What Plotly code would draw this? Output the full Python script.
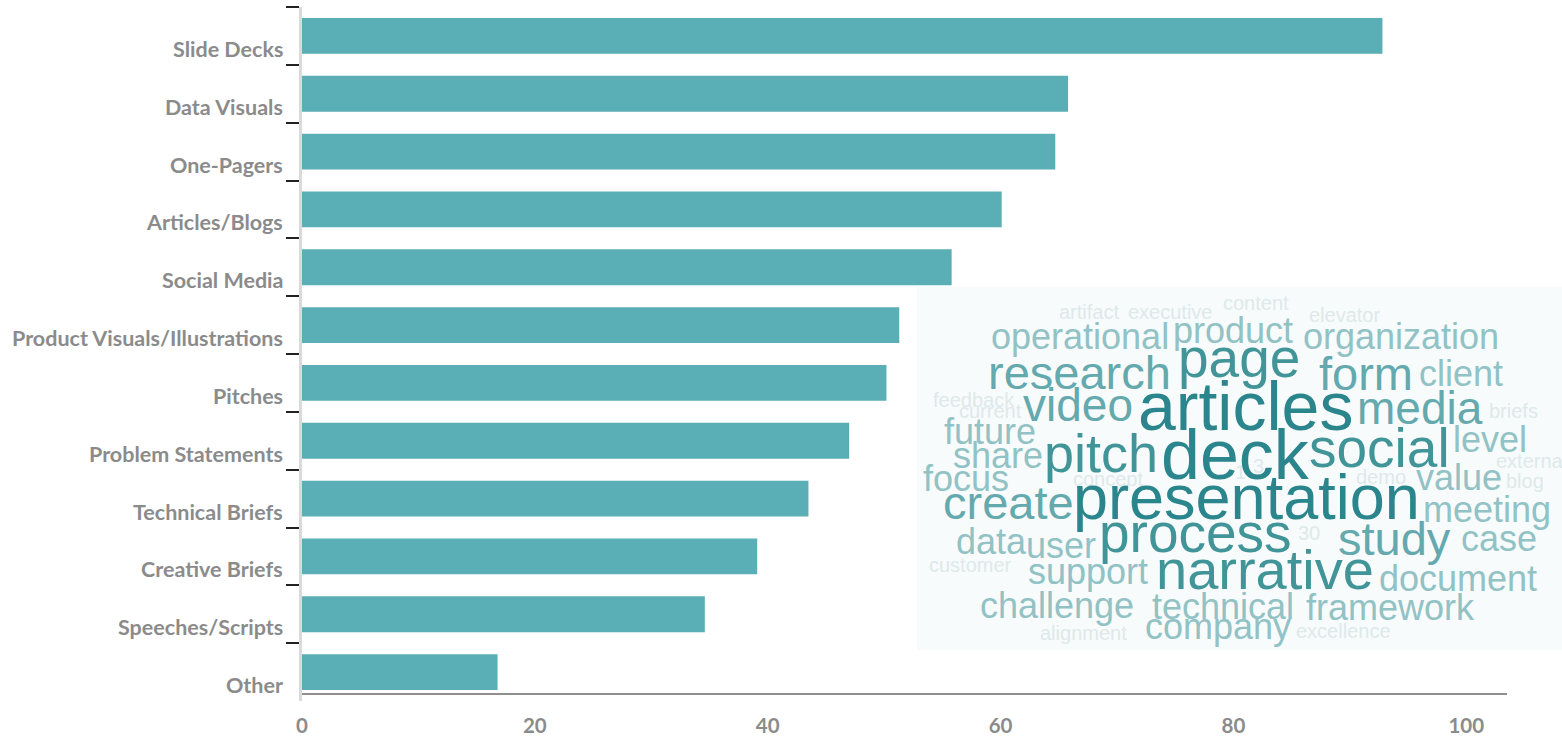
import plotly.graph_objects as go

# ---------------- data ----------------
categories = ["Slide Decks", "Data Visuals", "One-Pagers", "Articles/Blogs", "Social Media",
              "Product Visuals/Illustrations", "Pitches", "Problem Statements",
              "Technical Briefs", "Creative Briefs", "Speeches/Scripts", "Other"]
values = [92.8, 65.8, 64.7, 60.1, 55.8, 51.3, 50.2, 47.0, 43.5, 39.1, 34.6, 16.8]
x_ticks = [0, 20, 40, 60, 80, 100]

words = ["deck", "articles", "presentation", "narrative", "process", "page", "social", "pitch",
         "research", "form", "video", "media", "create", "study",
         "operational", "product", "organization", "client", "future", "level", "share", "focus",
         "value", "meeting", "data", "user", "case", "support", "document", "challenge",
         "technical", "framework", "company",
         "artifact", "executive", "content", "elevator", "feedback", "current", "briefs",
         "external", "concept", "demo", "blog", "30", "customer", "alignment", "excellence",
         "1", "3"]
word_weight = [70, 68, 63, 56, 55, 55, 55, 54,
               47, 47, 46, 46, 47, 47,
               36, 36, 36, 36, 36, 36, 36, 36,
               36, 36, 36, 36, 36, 36, 36, 36,
               36, 36, 36,
               20, 20, 20, 20, 20, 20, 20,
               20, 20, 20, 20, 20, 20, 20, 20,
               20, 20]

# ---------------- layout (word cloud placement, pixels: left x, baseline y) ----------------
word_pos = {
    "deck": (1160, 479), "articles": (1137, 430), "presentation": (1072, 519),
    "narrative": (1155, 589), "process": (1098, 552), "page": (1177, 377),
    "social": (1308, 467), "pitch": (1043, 472), "research": (987, 389),
    "form": (1318, 390), "video": (1022, 421), "media": (1356, 424),
    "create": (942, 519), "study": (1337, 555), "operational": (990, 349),
    "product": (1172, 343), "organization": (1302, 349), "client": (1418, 386),
    "future": (943, 444), "level": (1452, 452), "share": (952, 468),
    "focus": (922, 491), "value": (1415, 490), "meeting": (1422, 522),
    "data": (955, 554), "user": (1025, 558), "case": (1460, 551),
    "support": (1027, 584), "document": (1378, 591), "challenge": (979, 618),
    "technical": (1151, 619), "framework": (1305, 620), "company": (1144, 639),
    "artifact": (1058, 319), "executive": (1127, 319), "content": (1222, 310),
    "elevator": (1308, 322), "feedback": (932, 407), "current": (958, 418),
    "briefs": (1488, 418), "external": (1495, 468), "concept": (1072, 486),
    "demo": (1355, 484), "blog": (1505, 488), "30": (1297, 540),
    "customer": (928, 572), "alignment": (1039, 640), "excellence": (1295, 638),
    "1": (1234, 479), "3": (1252, 473),
}

W, H = 1562, 737
L, R, T, B = 302, 55, 7, 36
PW, PH = W - L - R, H - T - B
XMAX = 103.5


def px2paper(px, py):
    return (px - L) / PW, (H - B - py) / PH


def word_color(w):
    if w >= 63:
        return "#2a868c"
    if w >= 54:
        return "#419599"
    if w >= 45:
        return "#64a9ad"
    if w >= 30:
        return "#91c2c5"
    return "#dde9ea"


BAR_COLOR = "#5aafb6"
LABEL_COLOR = "#8b8b8b"
LABEL_FONT = dict(family="Lato", size=21.5, color=LABEL_COLOR, weight="bold")
TICK_FONT = dict(family="Lato", size=20.5, color=LABEL_COLOR, weight="bold")

fig = go.Figure()
fig.add_trace(go.Bar(x=values, y=categories, orientation="h",
                     marker=dict(color=BAR_COLOR, line=dict(width=0)),
                     hoverinfo="x+y"))

annotations = []
for c in categories:
    annotations.append(dict(x=0, xref="paper", y=c, yref="y", text=c, showarrow=False,
                            xanchor="right", yanchor="middle", xshift=-17, yshift=-13,
                            font=LABEL_FONT))

# word cloud
order = sorted(range(len(words)), key=lambda i: word_weight[i])
for i in order:
    w = words[i]
    s = word_weight[i]
    lx, base = word_pos[w]
    xp, yp = px2paper(lx, base - 0.35 * s)
    annotations.append(dict(x=xp, y=yp, xref="paper", yref="paper", text=w,
                            showarrow=False, xanchor="left", yanchor="middle",
                            borderpad=0,
                            font=dict(family="Liberation Sans, Arial", size=s,
                                      color=word_color(s))))

bx0, by0 = px2paper(917, 287)
bx1, by1 = px2paper(1562, 650)
shapes = [
    dict(type="rect", xref="paper", yref="paper", x0=bx0, x1=bx1, y0=by1, y1=by0,
         fillcolor="#f8fbfb", line=dict(width=0), layer="below"),
    dict(type="line", xref="x", yref="paper", x0=0, x1=XMAX,
         y0=7 / PH, y1=7 / PH, line=dict(color="#8f8f8f", width=2)),
]

fig.update_layout(
    width=W, height=H,
    margin=dict(l=L, r=R, t=T, b=B, pad=0, autoexpand=False),
    paper_bgcolor="white", plot_bgcolor="rgba(0,0,0,0)",
    bargap=0.38, showlegend=False,
    annotations=annotations, shapes=shapes,
    xaxis=dict(range=[0, XMAX], tickvals=x_ticks, showgrid=False, zeroline=False,
               showline=False, ticks="", tickfont=TICK_FONT, ticklabelstandoff=10,
               fixedrange=True, automargin=False),
    yaxis=dict(type="category", categoryorder="array", categoryarray=categories,
               autorange="reversed", showgrid=False, zeroline=False,
               showline=True, linecolor="#dadada", linewidth=3,
               ticks="outside", tickson="boundaries", ticklen=13, tickwidth=1.5,
               tickcolor="#222222", showticklabels=False, fixedrange=True,
               automargin=False),
)

fig.write_html("out.html")
